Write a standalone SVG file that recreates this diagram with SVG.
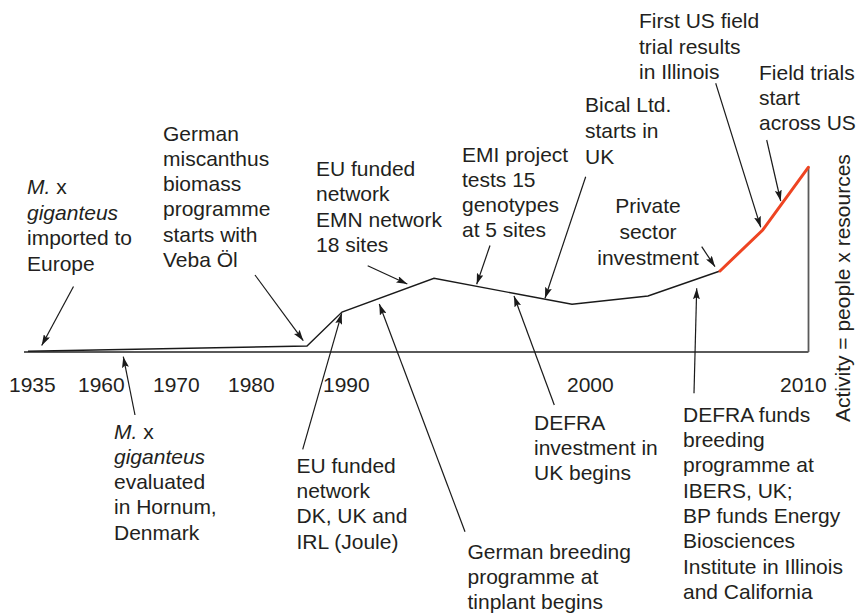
<svg xmlns="http://www.w3.org/2000/svg" width="859" height="613" viewBox="0 0 859 613">
<style>
text{font-family:"Liberation Sans",Arial,Helvetica,sans-serif;font-size:21px;fill:#231f20}
.it{font-style:italic}
.ax{stroke:#5a5a5a;stroke-width:1.8;fill:none}
.cv{stroke:#1a1a1a;stroke-width:1.4;fill:none;stroke-linejoin:miter}
.red{stroke:#ee4422;stroke-width:3;fill:none;stroke-linecap:round}
.ar{stroke:#1a1a1a;stroke-width:1.2;fill:none;marker-end:url(#ah)}
</style>
<defs>
<marker id="ah" markerUnits="userSpaceOnUse" markerWidth="12" markerHeight="7" refX="11" refY="3.5" orient="auto">
<path d="M0,0 L11,3.5 L0,7 L2,3.5 z" fill="#1a1a1a"/>
</marker>
</defs>
<rect width="859" height="613" fill="#fff"/>
<g id="axes">
<line class="ax" x1="24" y1="352" x2="808.5" y2="352"/>
<line class="ax" x1="808.5" y1="352" x2="808.5" y2="167"/>
</g>
<g id="curve">
<polyline class="cv" points="28,351.2 307,346 342,312 434,278.3 572,304.3 648,296 720,271"/>
<polyline class="red" points="720,271 762.7,230 808.3,167.3"/>
</g>
<g id="connectors">
<line class="ar" x1="73.5" y1="286.5" x2="41.7" y2="345.5"/>
<line class="ar" x1="255" y1="275" x2="303.3" y2="340.7"/>
<line class="ar" x1="135" y1="415" x2="123.3" y2="356.7"/>
<line class="ar" x1="302.7" y1="449.3" x2="341.7" y2="313.3"/>
<line class="ar" x1="465" y1="531.7" x2="379.3" y2="304"/>
<line class="ar" x1="367.7" y1="265.7" x2="407.3" y2="284"/>
<line class="ar" x1="490" y1="245.5" x2="476.7" y2="284.3"/>
<line class="ar" x1="585.7" y1="176.7" x2="545" y2="298.3"/>
<line class="ar" x1="554.3" y1="405" x2="514" y2="296"/>
<line class="ar" x1="701.7" y1="246.7" x2="715" y2="266.7"/>
<line class="ar" x1="694" y1="393.3" x2="696.7" y2="288.3"/>
<line class="ar" x1="715.7" y1="83.3" x2="760.7" y2="227.3"/>
<line class="ar" x1="766.7" y1="140" x2="780.7" y2="201"/>
</g>
<g id="years">
<text x="9" y="392">1935</text>
<text x="78" y="392">1960</text>
<text x="153" y="392">1970</text>
<text x="228" y="392">1980</text>
<text x="323" y="392">1990</text>
<text x="567" y="392">2000</text>
<text x="780" y="392">2010</text>
</g>
<g id="axis-label">
<text transform="translate(850,422) rotate(-90)">Activity = people x resources</text>
</g>
<g id="n-imported">
<text x="27" y="194"><tspan class="it">M.</tspan> x</text>
<text x="27" y="219.5" class="it">giganteus</text>
<text x="27" y="245">imported to</text>
<text x="27" y="270.5">Europe</text>
</g>
<g id="n-german-programme">
<text x="163" y="140.5">German</text>
<text x="163" y="165.8">miscanthus</text>
<text x="163" y="191">biomass</text>
<text x="163" y="216.3">programme</text>
<text x="163" y="241.6">starts with</text>
<text x="163" y="266.8">Veba Öl</text>
</g>
<g id="n-emn">
<text x="316" y="176">EU funded</text>
<text x="316" y="201.3">network</text>
<text x="316" y="226.6">EMN network</text>
<text x="316" y="251.8">18 sites</text>
</g>
<g id="n-emi">
<text x="462" y="162">EMI project</text>
<text x="462" y="187">tests 15</text>
<text x="462" y="212">genotypes</text>
<text x="462" y="237">at 5 sites</text>
</g>
<g id="n-bical">
<text x="585" y="112">Bical Ltd.</text>
<text x="585" y="138">starts in</text>
<text x="585" y="164">UK</text>
</g>
<g id="n-private">
<text x="648" y="213.3" text-anchor="middle">Private</text>
<text x="648" y="239.2" text-anchor="middle">sector</text>
<text x="648" y="265" text-anchor="middle">investment</text>
</g>
<g id="n-first-us">
<text x="639" y="28.3">First US field</text>
<text x="639" y="53.5">trial results</text>
<text x="639" y="78.8">in Illinois</text>
</g>
<g id="n-field-trials">
<text x="759" y="79.5">Field trials</text>
<text x="759" y="104.5">start</text>
<text x="759" y="129.5">across US</text>
</g>
<g id="n-evaluated">
<text x="114" y="439.3"><tspan class="it">M.</tspan> x</text>
<text x="114" y="464.3" class="it">giganteus</text>
<text x="114" y="489.3">evaluated</text>
<text x="114" y="514.3">in Hornum,</text>
<text x="114" y="539.5">Denmark</text>
</g>
<g id="n-joule">
<text x="296.5" y="472.7">EU funded</text>
<text x="296.5" y="498">network</text>
<text x="296.5" y="523.3">DK, UK and</text>
<text x="296.5" y="548.6">IRL (Joule)</text>
</g>
<g id="n-tinplant">
<text x="467.5" y="559.3">German breeding</text>
<text x="467.5" y="584">programme at</text>
<text x="467.5" y="608.5">tinplant begins</text>
</g>
<g id="n-defra-invest">
<text x="534" y="430">DEFRA</text>
<text x="534" y="455">investment in</text>
<text x="534" y="480">UK begins</text>
</g>
<g id="n-defra-funds">
<text x="683" y="421.7">DEFRA funds</text>
<text x="683" y="447">breeding</text>
<text x="683" y="472.3">programme at</text>
<text x="683" y="497.6">IBERS, UK;</text>
<text x="683" y="522.9">BP funds Energy</text>
<text x="683" y="548.2">Biosciences</text>
<text x="683" y="573.5">Institute in Illinois</text>
<text x="683" y="598.8">and California</text>
</g>
</svg>
